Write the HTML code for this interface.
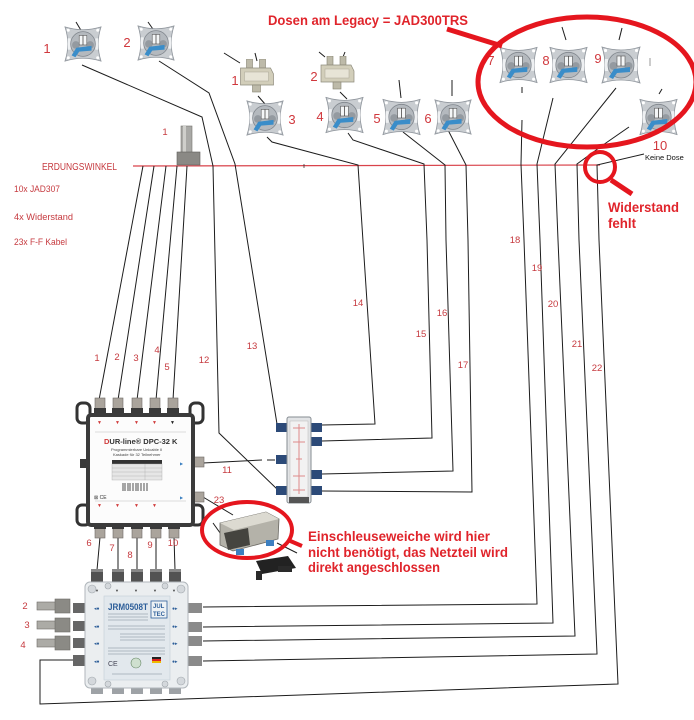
<!DOCTYPE html>
<html><head><meta charset="utf-8"><style>
html,body{margin:0;padding:0;background:#fff;}
svg{display:block;}
text{font-family:"Liberation Sans",Arial,sans-serif;}
</style></head><body>
<svg width="694" height="720" viewBox="0 0 694 720" xmlns="http://www.w3.org/2000/svg">
<defs>
<symbol id="dose" viewBox="0 0 42 40">
  <path d="M2,2 Q21,8 40,2 Q34,20 40,38 Q21,32 2,38 Q8,20 2,2Z" fill="#c9cdd1" stroke="#8d939a" stroke-width="0.8"/>
  <circle cx="5.5" cy="5.5" r="1.6" fill="#fff"/><circle cx="36.5" cy="5.5" r="1.6" fill="#fff"/>
  <circle cx="5.5" cy="34.5" r="1.6" fill="#fff"/><circle cx="36.5" cy="34.5" r="1.6" fill="#fff"/>
  <rect x="5" y="14" width="3" height="12" fill="#eef0f2"/>
  <rect x="34" y="14" width="3" height="12" fill="#eef0f2"/>
  <circle cx="21" cy="20" r="13" fill="#b4b9be" stroke="#80868d" stroke-width="0.8"/>
  <circle cx="13.5" cy="21" r="4" fill="#949aa0"/>
  <circle cx="28.5" cy="21" r="4" fill="#949aa0"/>
  <rect x="17" y="11" width="8" height="10" fill="#f4f6f7" stroke="#555" stroke-width="0.6"/>
  <line x1="21" y1="11" x2="21" y2="21" stroke="#444" stroke-width="0.8"/>
  <path d="M9,32 L14,24 L30,22 L30,27 L17,28 L13,34Z" fill="#3a8dc9"/>
</symbol>
<symbol id="split" viewBox="0 0 36 34">
  <rect x="8" y="0" width="6" height="9" fill="#bdbaa9" stroke="#858272" stroke-width="0.6"/>
  <rect x="21" y="0" width="6" height="9" fill="#bdbaa9" stroke="#858272" stroke-width="0.6"/>
  <path d="M2,9 L32,9 L35,15 L35,26 L2,26 Z" fill="#d2ceba" stroke="#8f8c7d" stroke-width="0.7"/>
  <rect x="6" y="13" width="24" height="9" fill="#e7e4d6" stroke="#a9a696" stroke-width="0.5"/>
  <rect x="14" y="26" width="8" height="7" fill="#bdbaa9" stroke="#858272" stroke-width="0.6"/>
</symbol>
</defs>

<rect x="0" y="0" width="694" height="720" fill="#fff"/>

<!-- ground line -->
<line x1="133" y1="166" x2="600" y2="165" stroke="#d9434b" stroke-width="1.2"/>
<line x1="304" y1="164" x2="304" y2="168" stroke="#333" stroke-width="0.8"/>

<!-- cables -->
<g fill="none" stroke="#1c1c1c" stroke-width="1">
  <line x1="143" y1="166" x2="99" y2="400"/>
  <line x1="154" y1="166" x2="118" y2="400"/>
  <line x1="166" y1="166" x2="137" y2="400"/>
  <line x1="177" y1="166" x2="156" y2="400"/>
  <line x1="187" y1="166" x2="173" y2="400"/>
  <polyline points="82,65 202,117 213,166 219,433 278,490"/>
  <polyline points="159,61 209,93 235,164 277,424"/>
  <polyline points="203,463 262,460"/>
  <polyline points="267,460 275,460"/>
  <polyline points="203,497 233,515"/>
  <polyline points="267,137 272,142 358,165 375,424 322,425"/>
  <polyline points="348,133 353,140 424,164 427,240 432,438 322,441"/>
  <polyline points="403,132 445,165 446,240 453,471 322,474"/>
  <polyline points="448,130 466,165 468,240 472,492 322,491"/>
  <polyline points="522,120 521,164 524,240 537,604 203,607"/>
  <polyline points="553,98 537,164 540,240 553,623 203,627"/>
  <polyline points="616,88 555,164 558,240 575,636 203,641"/>
  <polyline points="629,127 603,145 577,164 579,240 597,654 203,661"/>
  <polyline points="644,154 597,165 599,240 618,684 40,704 40,660 74,660"/>
  <line x1="100" y1="537" x2="97" y2="570"/>
  <line x1="118" y1="537" x2="118" y2="570"/>
  <line x1="137" y1="537" x2="137" y2="570"/>
  <line x1="156" y1="537" x2="156" y2="570"/>
  <line x1="174" y1="537" x2="175" y2="570"/>
  <!-- ticks -->
  <line x1="76" y1="22" x2="82" y2="32"/>
  <line x1="148" y1="22" x2="155" y2="32"/>
  <line x1="224" y1="53" x2="240" y2="63"/>
  <line x1="255" y1="53" x2="257" y2="61"/>
  <line x1="258" y1="96" x2="265" y2="104"/>
  <line x1="319" y1="52" x2="325" y2="57"/>
  <line x1="345" y1="52" x2="343" y2="57"/>
  <line x1="340" y1="92" x2="347" y2="99"/>
  <line x1="399" y1="80" x2="401" y2="98"/>
  <line x1="452" y1="80" x2="452" y2="96"/>
  <line x1="522" y1="87" x2="522" y2="93"/>
  <line x1="562" y1="27" x2="566" y2="40"/>
  <line x1="622" y1="28" x2="619" y2="40"/>
  <line x1="662" y1="89" x2="659" y2="94"/>
  <line x1="213" y1="523" x2="223" y2="537"/>
  <line x1="277" y1="543" x2="297" y2="553"/>
</g>
<line x1="650" y1="58" x2="650" y2="66" stroke="#999" stroke-width="1"/>

<!-- wall outlets -->
<use href="#dose" x="62" y="25" width="42" height="38"/>
<use href="#dose" x="135" y="24" width="42" height="38"/>
<use href="#dose" x="245" y="98" width="40" height="40"/>
<use href="#dose" x="324" y="95" width="41" height="40"/>
<use href="#dose" x="381" y="97" width="41" height="40"/>
<use href="#dose" x="433" y="97" width="40" height="40"/>
<use href="#dose" x="498" y="45" width="41" height="40"/>
<use href="#dose" x="548" y="45" width="41" height="40"/>
<use href="#dose" x="600" y="45" width="42" height="40"/>
<use href="#dose" x="638" y="97" width="41" height="40"/>
<use href="#split" x="238" y="59" width="37" height="34"/>
<use href="#split" x="319" y="56" width="36" height="34"/>

<!-- top terminator -->
<rect x="181" y="126" width="11" height="27" fill="#a9a9a6" stroke="#77766f" stroke-width="0.6"/>
<rect x="183" y="126" width="3" height="27" fill="#cfcfcb"/>
<rect x="177" y="152" width="23" height="13" fill="#8a8985" stroke="#5f5e5a" stroke-width="0.6"/>

<!-- DPC-32 K -->
<g>
  <rect x="77" y="403" width="13" height="20" rx="5" fill="none" stroke="#333" stroke-width="3"/>
  <rect x="190" y="403" width="13" height="20" rx="5" fill="none" stroke="#333" stroke-width="3"/>
  <rect x="77" y="505" width="13" height="20" rx="5" fill="none" stroke="#333" stroke-width="3"/>
  <rect x="190" y="505" width="13" height="20" rx="5" fill="none" stroke="#333" stroke-width="3"/>
  <g fill="#aaa49c" stroke="#6e6a66" stroke-width="0.6">
    <rect x="95" y="398" width="10" height="11"/><rect x="113" y="398" width="10" height="11"/>
    <rect x="132" y="398" width="10" height="11"/><rect x="150" y="398" width="10" height="11"/>
    <rect x="168" y="398" width="10" height="11"/>
    <rect x="95" y="528" width="10" height="10"/><rect x="113" y="528" width="10" height="10"/>
    <rect x="132" y="528" width="10" height="10"/><rect x="151" y="528" width="10" height="10"/>
    <rect x="169" y="528" width="10" height="10"/>
    <rect x="193" y="457" width="11" height="10"/><rect x="193" y="492" width="11" height="10"/>
  </g>
  <g fill="#3a3a3a">
    <rect x="94" y="408" width="12" height="8"/><rect x="112" y="408" width="12" height="8"/>
    <rect x="131" y="408" width="12" height="8"/><rect x="149" y="408" width="12" height="8"/>
    <rect x="167" y="408" width="12" height="8"/>
    <rect x="94" y="522" width="12" height="7"/><rect x="112" y="522" width="12" height="7"/>
    <rect x="131" y="522" width="12" height="7"/><rect x="150" y="522" width="12" height="7"/>
    <rect x="168" y="522" width="12" height="7"/>
    <rect x="80" y="459" width="8" height="9"/>
  </g>
  <rect x="88" y="415" width="105" height="110" rx="3" fill="#fcfcfc" stroke="#3b3b3b" stroke-width="4"/>
  <g fill="#d03a3a" font-size="5">
    <text x="97" y="424">▼</text><text x="115" y="424">▼</text><text x="134" y="424">▼</text><text x="152" y="424">▼</text>
    <text x="97" y="507">▼</text><text x="115" y="507">▼</text><text x="134" y="507">▼</text><text x="152" y="507">▼</text>
  </g>
  <text x="170" y="424" font-size="5" fill="#222">▼</text>
  <line x1="95" y1="432" x2="186" y2="432" stroke="#bbb" stroke-width="0.6"/>
  <text x="104" y="444" font-size="7.5" font-weight="bold" fill="#333"><tspan fill="#d03a3a">D</tspan>UR-line® DPC-32 K</text>
  <text x="111" y="451" font-size="4" fill="#444">Programmierbare Unicable II</text>
  <text x="113" y="456" font-size="4" fill="#444">Kaskade für 32 Teilnehmer</text>
  <rect x="112" y="460" width="50" height="4" fill="#333"/>
  <rect x="112" y="464" width="50" height="16" fill="#e6e6e6" stroke="#aaa" stroke-width="0.4"/>
  <line x1="112" y1="468" x2="162" y2="468" stroke="#aaa" stroke-width="0.4"/>
  <line x1="112" y1="472" x2="162" y2="472" stroke="#aaa" stroke-width="0.4"/>
  <line x1="112" y1="476" x2="162" y2="476" stroke="#aaa" stroke-width="0.4"/>
  <line x1="145" y1="464" x2="145" y2="480" stroke="#aaa" stroke-width="0.4"/>
  <g stroke="#222" stroke-width="0.8">
    <line x1="123" y1="483" x2="123" y2="491"/><line x1="125" y1="483" x2="125" y2="491"/>
    <line x1="128" y1="483" x2="128" y2="491"/><line x1="130" y1="483" x2="130" y2="491"/>
    <line x1="133" y1="483" x2="133" y2="491"/><line x1="136" y1="483" x2="136" y2="491"/>
    <line x1="138" y1="483" x2="138" y2="491"/><line x1="141" y1="483" x2="141" y2="491"/>
    <line x1="144" y1="483" x2="144" y2="491"/><line x1="147" y1="483" x2="147" y2="491"/>
  </g>
  <text x="94" y="499" font-size="5" fill="#333">⊠ CE</text>
  <line x1="95" y1="501" x2="186" y2="501" stroke="#bbb" stroke-width="0.6"/>
  <text x="180" y="465" font-size="4" fill="#3a7fc0">▶</text>
  <text x="180" y="499" font-size="4" fill="#3a7fc0">▶</text>
</g>

<!-- splitter -->
<g>
  <g fill="#2c4a78">
    <rect x="276" y="423" width="11" height="9"/><rect x="276" y="455" width="11" height="9"/><rect x="276" y="486" width="11" height="9"/>
    <rect x="311" y="423" width="11" height="9"/><rect x="311" y="437" width="11" height="9"/>
    <rect x="311" y="470" width="11" height="9"/><rect x="311" y="486" width="11" height="9"/>
  </g>
  <rect x="287" y="417" width="24" height="86" rx="2" fill="#e2e4e6" stroke="#858c92" stroke-width="1"/>
  <rect x="290" y="421" width="18" height="76" fill="#f2f2f2" stroke="#b8b8b8" stroke-width="0.5"/>
  <path d="M299,424 V494 M293,428 H305 M293,442 H305 M293,476 H305 M293,490 H305 M296,459 H302" stroke="#de8a8a" stroke-width="1" fill="none"/>
  <rect x="289" y="497" width="20" height="6" fill="#555"/>
</g>

<!-- Einschleuseweiche -->
<g>
  <polygon points="220,523 266,512 279,519 278,539 233,551 220,545" fill="#b4b2a9" stroke="#6a6862" stroke-width="0.8"/>
  <polygon points="220,523 266,512 279,519 234,530" fill="#dcdad1"/>
  <polygon points="224,533 248,528 250,545 228,550" fill="#45443f"/>
  <rect x="236" y="549" width="8" height="6" fill="#3c7fc0"/>
  <rect x="266" y="540" width="8" height="6" fill="#3c7fc0"/>
  <path d="M256,561 L288,556 L296,568 L262,574Z" fill="#222"/>
  <rect x="256" y="571" width="6" height="9" fill="#2a2a2a"/>
  <rect x="278" y="566" width="14" height="6" fill="#2a2a2a"/>
</g>

<!-- JRM0508T -->
<g>
  <g fill="#525252">
    <rect x="91" y="569" width="12" height="14" rx="1"/><rect x="112" y="569" width="12" height="14" rx="1"/>
    <rect x="131" y="569" width="12" height="14" rx="1"/><rect x="150" y="569" width="12" height="14" rx="1"/>
    <rect x="169" y="569" width="12" height="14" rx="1"/>
  </g>
  <g fill="#888">
    <rect x="91" y="569" width="12" height="3"/><rect x="112" y="569" width="12" height="3"/>
    <rect x="131" y="569" width="12" height="3"/><rect x="150" y="569" width="12" height="3"/>
    <rect x="169" y="569" width="12" height="3"/>
  </g>
  <g fill="#9ea2a6">
    <rect x="91" y="687" width="12" height="7"/><rect x="112" y="687" width="12" height="7"/>
    <rect x="131" y="687" width="12" height="7"/><rect x="150" y="687" width="12" height="7"/>
    <rect x="169" y="687" width="12" height="7"/>
  </g>
  <g fill="#666">
    <rect x="73" y="603" width="13" height="10"/><rect x="73" y="621" width="13" height="10"/>
    <rect x="73" y="638" width="13" height="10"/><rect x="73" y="655" width="13" height="11"/>
  </g>
  <g fill="#8a8a8a">
    <rect x="187" y="603" width="15" height="10"/><rect x="187" y="622" width="15" height="10"/>
    <rect x="187" y="636" width="15" height="10"/><rect x="187" y="656" width="15" height="10"/>
  </g>
  <rect x="85" y="582" width="103" height="106" rx="5" fill="#ebeef0" stroke="#b0b6bb" stroke-width="1"/>
  <g fill="#d4d8dc" stroke="#9fa5aa" stroke-width="0.6">
    <circle cx="92" cy="589" r="4"/><circle cx="181" cy="589" r="4"/>
    <circle cx="92" cy="681" r="4"/><circle cx="181" cy="681" r="4"/>
    <circle cx="108" cy="586" r="3"/><circle cx="165" cy="586" r="3"/>
    <circle cx="108" cy="684" r="3"/><circle cx="165" cy="684" r="3"/>
  </g>
  <rect x="104" y="596" width="66" height="84" fill="#e2e8ed" stroke="#c4cfd7" stroke-width="0.6"/>
  <text x="108" y="610" font-size="9" font-weight="bold" fill="#2d5e99" textLength="40" lengthAdjust="spacingAndGlyphs">JRM0508T</text>
  <rect x="151" y="601" width="16" height="17" fill="#eef2f5" stroke="#2d5e99" stroke-width="0.8"/>
  <text x="153" y="608" font-size="6" font-weight="bold" fill="#2d5e99">JUL</text>
  <text x="153" y="616" font-size="6" font-weight="bold" fill="#2d5e99">TEC</text>
  <g stroke="#7c8a96" stroke-width="0.6">
    <line x1="108" y1="614" x2="148" y2="614"/><line x1="108" y1="617" x2="148" y2="617"/>
    <line x1="108" y1="620" x2="148" y2="620"/><line x1="108" y1="626" x2="165" y2="626"/>
    <line x1="108" y1="629" x2="165" y2="629"/><line x1="120" y1="634" x2="165" y2="634"/>
    <line x1="120" y1="637" x2="165" y2="637"/><line x1="120" y1="640" x2="165" y2="640"/>
    <line x1="108" y1="648" x2="165" y2="648"/><line x1="108" y1="651" x2="165" y2="651"/>
    <line x1="108" y1="654" x2="165" y2="654"/><line x1="112" y1="674" x2="162" y2="674"/>
  </g>
  <text x="108" y="666" font-size="7" fill="#445">CE</text>
  <circle cx="136" cy="663" r="5" fill="#cfe0cf" stroke="#6a8a6a" stroke-width="0.6"/>
  <rect x="152" y="657" width="9" height="2" fill="#222"/><rect x="152" y="659" width="9" height="2" fill="#d22"/><rect x="152" y="661" width="9" height="2" fill="#eb0"/>
  <g fill="#2d5e99" font-size="5">
    <text x="94" y="610">◂●</text><text x="94" y="628">◂●</text><text x="94" y="645">◂●</text><text x="94" y="663">◂●</text>
    <text x="172" y="610">●▸</text><text x="172" y="628">●▸</text><text x="172" y="645">●▸</text><text x="172" y="663">●▸</text>
  </g>
  <g fill="#444" font-size="4">
    <text x="95" y="592">▼</text><text x="115" y="592">▼</text><text x="134" y="592">▼</text><text x="153" y="592">▼</text><text x="172" y="592">▼</text>
  </g>
</g>

<!-- left terminators -->
<g stroke="#6e6d68" stroke-width="0.6">
  <rect x="37" y="602" width="19" height="8" fill="#acaba6"/><rect x="55" y="599" width="15" height="14" fill="#8b8a85"/>
  <rect x="37" y="621" width="19" height="8" fill="#acaba6"/><rect x="55" y="618" width="15" height="14" fill="#8b8a85"/>
  <rect x="37" y="639" width="19" height="8" fill="#acaba6"/><rect x="55" y="636" width="15" height="14" fill="#8b8a85"/>
</g>

<!-- left info text -->
<g fill="#c63a3f">
  <text x="42" y="170" font-size="10" textLength="75" lengthAdjust="spacingAndGlyphs">ERDUNGSWINKEL</text>
  <text x="14" y="192" font-size="9.5" textLength="46" lengthAdjust="spacingAndGlyphs">10x JAD307</text>
  <text x="14" y="220" font-size="9.5" textLength="59" lengthAdjust="spacingAndGlyphs">4x Widerstand</text>
  <text x="14" y="245" font-size="9.5" textLength="53" lengthAdjust="spacingAndGlyphs">23x F-F Kabel</text>
</g>

<!-- dose numbers -->
<g fill="#d0383d" font-size="13" text-anchor="middle">
  <text x="47" y="53">1</text><text x="127" y="47">2</text>
  <text x="235" y="85">1</text><text x="314" y="81">2</text>
  <text x="292" y="124">3</text><text x="320" y="121">4</text>
  <text x="377" y="123">5</text><text x="428" y="123">6</text>
  <text x="491" y="65">7</text><text x="546" y="65">8</text><text x="598" y="63">9</text>
  <text x="660" y="150">10</text>
</g>
<text x="645" y="160" font-size="7.5" fill="#111">Keine Dose</text>

<!-- cable numbers -->
<g fill="#c63a3f" font-size="9.5" text-anchor="middle">
  <text x="165" y="135">1</text>
  <text x="97" y="361">1</text><text x="117" y="360">2</text><text x="136" y="361">3</text>
  <text x="157" y="353">4</text><text x="167" y="370">5</text>
  <text x="204" y="363">12</text><text x="252" y="349">13</text><text x="358" y="306">14</text>
  <text x="421" y="337">15</text><text x="442" y="316">16</text><text x="463" y="368">17</text>
  <text x="515" y="243">18</text><text x="537" y="271">19</text><text x="553" y="307">20</text>
  <text x="577" y="347">21</text><text x="597" y="371">22</text>
  <text x="227" y="473">11</text><text x="219" y="503">23</text>
  <text x="89" y="546">6</text><text x="112" y="551">7</text><text x="130" y="558">8</text>
  <text x="150" y="548">9</text><text x="173" y="546">10</text>
  <text x="25" y="609">2</text><text x="27" y="628">3</text><text x="23" y="648">4</text>
</g>

<!-- annotations -->
<ellipse cx="587" cy="82" rx="109" ry="65" fill="none" stroke="#e5161e" stroke-width="5"/>
<line x1="447" y1="29" x2="502" y2="46" stroke="#e5161e" stroke-width="5"/>
<circle cx="600" cy="167" r="15" fill="none" stroke="#e5161e" stroke-width="4"/>
<line x1="611" y1="180" x2="632" y2="194" stroke="#e5161e" stroke-width="5"/>
<ellipse cx="247" cy="530" rx="45" ry="28" fill="none" stroke="#e5161e" stroke-width="4"/>
<line x1="288" y1="540" x2="302" y2="546" stroke="#e5161e" stroke-width="4"/>

<g fill="#e0242b" font-weight="bold">
  <text x="268" y="25" font-size="13.5" textLength="200" lengthAdjust="spacingAndGlyphs">Dosen am Legacy = JAD300TRS</text>
  <text x="608" y="212" font-size="14" textLength="71" lengthAdjust="spacingAndGlyphs">Widerstand</text>
  <text x="608" y="228" font-size="14" textLength="28" lengthAdjust="spacingAndGlyphs">fehlt</text>
  <text x="308" y="541" font-size="14" textLength="182" lengthAdjust="spacingAndGlyphs">Einschleuseweiche wird hier</text>
  <text x="308" y="557" font-size="14" textLength="200" lengthAdjust="spacingAndGlyphs">nicht benötigt, das Netzteil wird</text>
  <text x="308" y="572" font-size="14" textLength="132" lengthAdjust="spacingAndGlyphs">direkt angeschlossen</text>
</g>
</svg>
</body></html>
